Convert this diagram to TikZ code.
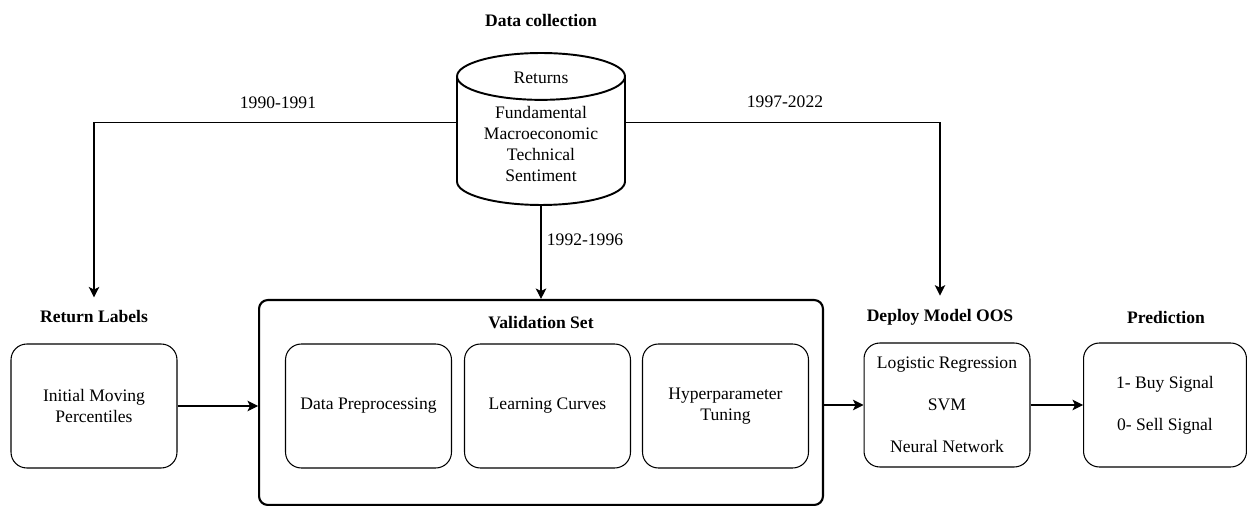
\documentclass[tikz,border=0pt]{standalone}
\usepackage{fontspec}
\setmainfont{Liberation Serif}
\usetikzlibrary{shapes.geometric,arrows.meta}
\tikzset{
  box/.style    = {draw, rounded corners=9pt, line width=0.6pt, align=center,
                   minimum width=3.32cm, minimum height=2.48cm, inner sep=2pt},
  frame/.style  = {draw, rounded corners=5pt, line width=1.2pt,
                   minimum width=11.28cm, minimum height=4.1cm},
  title/.style  = {font=\bfseries, inner sep=2pt},
  period/.style = {inner sep=2pt},
  store/.style  = {draw, cylinder, shape border rotate=90, aspect=4,
                   line width=1.1pt, minimum width=3.36cm, minimum height=3.04cm},
  flow/.style   = {-{Stealth[length=6pt, width=6pt, inset=1.5pt]}, line width=0.6pt},
  feed/.style   = {flow, shorten >=5.4pt},
}

\begin{document}
\begin{tikzpicture}[x=0.02cm, y=-0.02cm, font=\fontsize{10}{12}\selectfont]
    \useasboundingbox (0,0) rectangle (1247,506);

    \node[title] (tdata) at (541,20) {Data collection};
    \node[store, anchor=shape center] (db) at (541,129) {};
    \node[align=center, inner sep=0pt] (dbtext) at (541,127)
        {Returns\\[8pt]Fundamental\\Macroeconomic\\Technical\\Sentiment};

    \node[title] (tret) at (94,317)   {Return Labels};
    \node[title] (tdep) at (940,317)  {Deploy Model OOS};
    \node[title] (tpre) at (1166,317) {Prediction};

    \node[frame] (val)  at (541,402.5) {};
    \node[title] (tval) at (541,323) {Validation Set};

    \node[box] (ret)  at (94,406)    {Initial Moving\\Percentiles};
    \node[box] (prep) at (368.5,406) {Data Preprocessing};
    \node[box] (curv) at (547.5,406) {Learning Curves};
    \node[box] (tune) at (725.5,406) {Hyperparameter\\Tuning};
    \node[box] (dep)  at (947,405)   {Logistic Regression\\[12pt]SVM\\[12pt]Neural Network};
    \node[box, minimum width=3.26cm] (pre) at (1165,405) {1- Buy Signal\\[12pt]0- Sell Signal};

    \node[period] (p1) at (278,103) {1990-1991};
    \node[period] (p2) at (785,102) {1997-2022};
    \node[period] (p3) at (585,240) {1992-1996};

    \draw[feed] ([yshift=2.3pt]db.west |- dbtext) -| (tret.north);
    \draw[feed] ([yshift=2.3pt]db.east |- dbtext) -| (tdep.north);
    \draw[flow] (db.bottom) -- (val.north);
    \draw[flow] (ret.east) -- (ret.east -| val.west);
    \draw[flow] (val.east |- dep.west) -- (dep.west);
    \draw[flow] (dep) -- (pre);
\end{tikzpicture}
\end{document}
